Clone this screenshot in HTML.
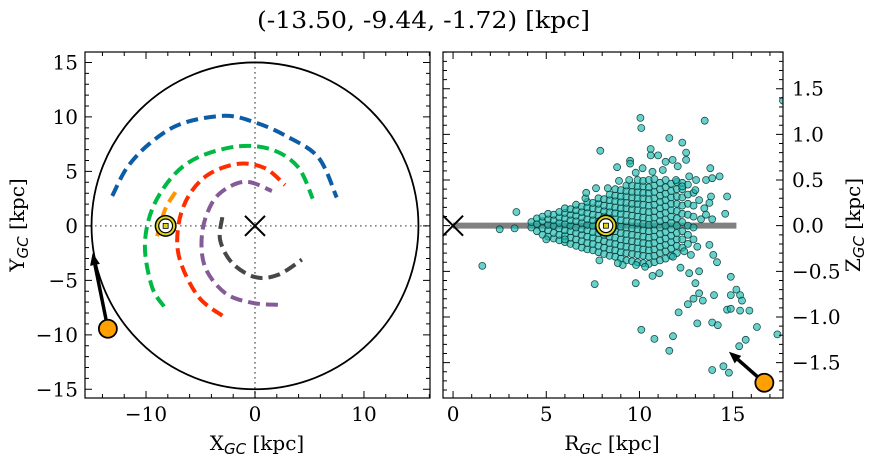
<!DOCTYPE html>
<html><head><meta charset="utf-8"><style>
html,body{margin:0;padding:0;background:#fff}
svg{display:block;font-family:"DejaVu Serif","Liberation Serif",serif}
.sub{font-family:"DejaVu Sans","Liberation Sans",sans-serif;font-style:italic}
</style></head><body>
<svg id="fig" width="874" height="464" viewBox="0 0 874 464" xmlns="http://www.w3.org/2000/svg">
<text x="257" y="28" textLength="333" lengthAdjust="spacingAndGlyphs" font-size="23">(-13.50, -9.44, -1.72) [kpc]</text>
<g id="L"></g>
<g id="R"></g>
</svg>
<script>
// ---- left panel data (kpc) ----
const blueX=[-13.1,-11.7,-9.5,-6.7,-2.75,0,2.75,5.8,7.5];
const blueY=[2.75,5.4,7.7,9.4,10.1,9.5,8.3,6.3,2.6];
const greenX=[-8.35,-9.45,-10.1,-9.45,-7.6,-5.2,-1.55,1.55,3.95,5.3];
const greenY=[-7.4,-5.6,-1.9,1.5,4.5,6.3,7.3,7.0,5.4,2.5];
const orangeX=[-7.3,-8.25,-9.0];
const orangeY=[3.1,1.5,-1.0];
const redX=[-3.0,-5.2,-6.9,-7.05,-6.15,-4.3,-1.55,0.9,2.75];
const redY=[-8.25,-6.5,-3.1,-0.1,2.65,4.7,5.7,5.3,3.75];
const purpleX=[2.1,-0.3,-2.75,-4.6,-4.85,-3.95,-2.5,-0.65,1.55];
const purpleY=[-7.25,-7.05,-6.15,-3.75,-0.65,2.1,3.5,4.05,3.2];
const grayX=[-3.0,-3.2,-2.1,0,2.1,4.3];
const grayY=[0.8,-1.3,-3.4,-4.7,-4.5,-3.1];
const starXY=[-13.5,-9.44];
const starArrowTip=[-14.9,-2.5];
const sunXY=[-8.2,0];
const xTicksL=[-10,0,10];
const yTicksL=[-15,-10,-5,0,5,10,15];
// ---- right panel data ----
const colR=[4.2,4.5,4.8,5.1,5.4,5.7,6.0,6.3,6.6,6.9,7.2,7.5,7.8,8.1,8.4,8.7,9.0,9.3,9.6,9.9,10.2,10.5,10.8,11.1,11.4,11.7,12.0,12.3,12.6,12.9];
const colZ=[
[-0.02,0.04],[-0.06,0.02,0.08],[-0.1,-0.03,0.05,0.1],[-0.12,-0.05,0.01,0.07,0.13],[-0.14,-0.08,0,0.06,0.12],
[-0.16,-0.1,-0.03,0.03,0.09,0.15],[-0.18,-0.11,-0.05,0.02,0.08,0.14,0.19],[-0.2,-0.13,-0.06,0,0.06,0.12,0.18],
[-0.22,-0.15,-0.08,-0.02,0.05,0.11,0.17,0.23],[-0.24,-0.17,-0.1,-0.04,0.03,0.09,0.15,0.21],
[-0.26,-0.19,-0.12,-0.05,0.01,0.07,0.14,0.2,0.26],[-0.27,-0.2,-0.13,-0.07,0,0.06,0.12,0.19,0.25],
[-0.29,-0.22,-0.15,-0.08,-0.02,0.05,0.11,0.18,0.24,0.3],[-0.31,-0.24,-0.17,-0.1,-0.04,0.03,0.1,0.16,0.22,0.29],
[-0.33,-0.26,-0.19,-0.12,-0.05,0.01,0.08,0.15,0.21,0.28,0.34],[-0.34,-0.27,-0.2,-0.13,-0.06,0,0.07,0.14,0.2,0.27,0.33,0.4],
[-0.36,-0.29,-0.22,-0.15,-0.08,-0.01,0.06,0.13,0.19,0.26,0.32,0.39],[-0.38,-0.3,-0.23,-0.16,-0.09,-0.02,0.05,0.12,0.19,0.25,0.32,0.38,0.44],
[-0.39,-0.31,-0.24,-0.17,-0.1,-0.03,0.04,0.11,0.18,0.24,0.31,0.37,0.44],[-0.4,-0.32,-0.25,-0.18,-0.11,-0.04,0.03,0.1,0.17,0.24,0.3,0.37,0.43,0.5],
[-0.41,-0.33,-0.26,-0.19,-0.12,-0.05,0.02,0.09,0.16,0.23,0.3,0.36,0.43,0.49],[-0.42,-0.34,-0.27,-0.2,-0.13,-0.06,0.01,0.08,0.15,0.22,0.29,0.36,0.42,0.5],
[-0.4,-0.33,-0.26,-0.19,-0.12,-0.05,0.02,0.09,0.16,0.23,0.3,0.37,0.44,0.51],[-0.38,-0.3,-0.23,-0.16,-0.09,-0.02,0.05,0.12,0.19,0.26,0.33,0.4,0.47],
[-0.36,-0.28,-0.21,-0.14,-0.07,0,0.07,0.14,0.21,0.28,0.35,0.42,0.5],[-0.33,-0.25,-0.18,-0.11,-0.04,0.03,0.1,0.17,0.24,0.31,0.38,0.46],
[-0.3,-0.22,-0.15,-0.08,0,0.08,0.16,0.24,0.32,0.4,0.48],[-0.24,-0.15,-0.06,0.04,0.13,0.22,0.31,0.4,0.47],
[-0.2,-0.1,0,0.12,0.24,0.34,0.45],[-0.15,-0.02,0.1,0.22,0.36]];
const outR=[10.05,10.1,13.5,11.6,12.3,7.9,10.6,10.6,11.0,12.5,12.5,8.8,9.5,9.5,13.8,14.3,14.7,7.1,3.4,2.5,3.3,1.57,5.0,6.0,7.6,9.8,7.85,14.6,13.9,13.3,14.9,15.2,15.4,15.5,14.9,14.7,14.9,15.4,15.9,14.0,13.0,13.2,13.4,12.6,12.9,12.1,13.1,13.9,14.2,10.1,10.8,11.8,11.6,16.3,17.4,15.7,15.35,13.9,14.5,14.8,17.7,
12.4,12.76,13.1,13.75,13.96,14.16,13.2,12.67,12.2,11.8,11.07,10.7,10.3,9.82,9.1,8.84,
13.04,13.57,13.9,13.84,13.48,13.57,13.2,12.67,12.05,11.78,11.4,11.25,10.7,10.17,9.8,9.45,8.9,8.3,7.67,7.14,11.96,12.3,13.0,13.75];
const outZ=[1.18,1.07,1.15,0.96,0.91,0.82,0.84,0.77,0.77,0.8,0.72,0.64,0.71,0.68,0.63,0.54,0.32,0.30,0.15,-0.04,-0.03,-0.44,-0.15,-0.15,-0.64,-0.63,-0.38,0.13,0.07,0.07,-0.56,-0.70,-0.76,-0.82,-0.76,-0.92,-0.91,-0.93,-0.93,-0.76,-0.63,-0.74,-0.82,-0.86,-0.80,-0.95,-1.07,-1.06,-1.09,-1.14,-1.24,-1.21,-1.37,-1.11,-1.19,-1.25,-1.32,-1.58,-1.54,-1.61,1.37,
-0.28,-0.32,-0.23,-0.21,-0.32,-0.40,-0.50,-0.52,-0.46,-0.34,-0.52,-0.55,-0.45,-0.43,-0.43,-0.41,
0.5,0.5,0.52,0.32,0.19,0.12,0.28,0.54,0.65,0.72,0.70,0.61,0.59,0.63,0.58,0.50,0.49,0.41,0.41,0.36,0.5,0.43,0.39,0.25];
const diskR=[0,15.2];
const sunRZ=[8.2,0];
const starRZ=[16.7,-1.72];
const starArrowTipRZ=[14.8,-1.38];
const xTicksR=[0,5,10,15];
const yTicksR=[-1.5,-1.0,-0.5,0.0,0.5,1.0,1.5];

const NS="http://www.w3.org/2000/svg";
function mk(p,t,a){const e=document.createElementNS(NS,t);for(const k in a)e.setAttribute(k,a[k]);p.appendChild(e);return e;}
const fmt=v=>String(v).replace('-','\u2212');
const L={x0:85,x1:430,y0:52,y1:398,xmin:-15.6,xmax:16.06,ymin:-15.8,ymax:15.96};
const R={x0:443,x1:783,y0:52,y1:398,xmin:-0.54,xmax:17.7,ymin:-1.887,ymax:1.902};
const sx=(A,v)=>A.x0+(v-A.xmin)/(A.xmax-A.xmin)*(A.x1-A.x0);
const sy=(A,v)=>A.y1-(v-A.ymin)/(A.ymax-A.ymin)*(A.y1-A.y0);
const gL=document.getElementById('L'), gR=document.getElementById('R');
const defs=mk(document.getElementById('fig'),'defs',{});
const cpL=mk(defs,'clipPath',{id:'cL'});mk(cpL,'rect',{x:L.x0,y:L.y0,width:L.x1-L.x0,height:L.y1-L.y0});
const cpR=mk(defs,'clipPath',{id:'cR'});mk(cpR,'rect',{x:R.x0,y:R.y0,width:R.x1-R.x0,height:R.y1-R.y0});
const pL=mk(gL,'g',{'clip-path':'url(#cL)'});


let e=mk(pL,'line',{x1:L.x0,x2:L.x1,y1:sy(L,0),y2:sy(L,0),stroke:'#777','stroke-width':1.6,'stroke-dasharray':'1.6 3.4'});

e=mk(pL,'line',{x1:sx(L,0),x2:sx(L,0),y1:L.y0,y2:L.y1,stroke:'#777','stroke-width':1.6,'stroke-dasharray':'1.6 3.4'});

e=mk(pL,'ellipse',{cx:sx(L,0),cy:sy(L,0),rx:sx(L,15)-sx(L,0),ry:sy(L,0)-sy(L,15),fill:'none',stroke:'#000','stroke-width':1.8});

function smooth(P){if(P.length<3)return 'M'+P.map(p=>p.join(',')).join('L');
 let d=`M${P[0][0]},${P[0][1]}`;
 for(let i=0;i<P.length-1;i++){const p0=P[Math.max(i-1,0)],p1=P[i],p2=P[i+1],p3=P[Math.min(i+2,P.length-1)];
  const c1=[p1[0]+(p2[0]-p0[0])/6,p1[1]+(p2[1]-p0[1])/6],c2=[p2[0]-(p3[0]-p1[0])/6,p2[1]-(p3[1]-p1[1])/6];
  d+=`C${c1[0].toFixed(1)},${c1[1].toFixed(1)} ${c2[0].toFixed(1)},${c2[1].toFixed(1)} ${p2[0].toFixed(1)},${p2[1].toFixed(1)}`;}
 return d;}
function arm(xs,ys,col,name){const P=xs.map((x,i)=>[sx(L,x),sy(L,ys[i])]);
 const p=mk(pL,'path',{d:smooth(P),fill:'none',stroke:col,'stroke-width':4,'stroke-dasharray':'12 6'});
 
 }
arm(blueX,blueY,'#0c5da5','arm-blue');
arm(greenX,greenY,'#00b945','arm-green');
arm(orangeX,orangeY,'#ff9500','arm-orange');
arm(redX,redY,'#ff2c00','arm-red');
arm(purpleX,purpleY,'#845b97','arm-purple');
arm(grayX,grayY,'#474747','arm-gray');
function cross(g,cx,cy,name){const s=10;const c=mk(g,'path',{d:`M${cx-s},${cy-s}L${cx+s},${cy+s}M${cx-s},${cy+s}L${cx+s},${cy-s}`,stroke:'#000','stroke-width':2,fill:'none'});
 
 }
cross(pL,sx(L,0),sy(L,0),'galactic-center-marker');
function sun(g,cx,cy){const s=mk(g,'g',{});
 
 
 mk(s,'circle',{cx,cy,r:11,fill:'#000'});mk(s,'circle',{cx,cy,r:9.5,fill:'#ddd61a'});mk(s,'circle',{cx,cy,r:7.5,fill:'#000'});mk(s,'circle',{cx,cy,r:6.3,fill:'#fff'});
 mk(s,'rect',{x:cx-2.5,y:cy-2.5,width:5,height:5,fill:'#ddd61a',stroke:'#000','stroke-width':0.8});}
sun(pL,sx(L,sunXY[0]),sy(L,sunXY[1]));
function arrow(g,x1,y1,x2,y2,name){const a=mk(g,'g',{});
 
 
 const dx=x2-x1,dy=y2-y1,len=Math.hypot(dx,dy),ux=dx/len,uy=dy/len,hl=12,hw=5;
 const bx=x2-ux*hl,by=y2-uy*hl;
 mk(a,'line',{x1,y1,x2:bx,y2:by,stroke:'#000','stroke-width':3.5});
 mk(a,'polygon',{points:`${x2},${y2} ${bx-uy*hw},${by+ux*hw} ${bx+uy*hw},${by-ux*hw}`,fill:'#000'});}
function star(g,cx,cy,name){const c=mk(g,'circle',{cx,cy,r:9,fill:'#ffa000',stroke:'#000','stroke-width':1.8});
 
 }
arrow(pL,sx(L,starXY[0]),sy(L,starXY[1]),sx(L,starArrowTip[0]),sy(L,starArrowTip[1]),'star-velocity-arrow');
star(pL,sx(L,starXY[0]),sy(L,starXY[1]),'star-position-marker');

const pR=mk(gR,'g',{'clip-path':'url(#cR)'});


e=mk(pR,'line',{x1:sx(R,diskR[0]),x2:sx(R,diskR[1]),y1:sy(R,0),y2:sy(R,0),stroke:'#808080','stroke-width':6});

cross(pR,sx(R,0),sy(R,0),'galactic-center-marker-rz');
const sg=mk(pR,'g',{});


function dot(r,z){const c=mk(sg,'circle',{cx:sx(R,r).toFixed(1),cy:sy(R,z).toFixed(1),r:3.5,fill:'rgba(25,185,175,0.65)',stroke:'rgba(5,50,45,0.85)','stroke-width':0.8});
 
 }
colR.forEach((r,i)=>colZ[i].forEach(z=>dot(r,z)));
outR.forEach((r,i)=>dot(r,outZ[i]));
sun(pR,sx(R,sunRZ[0]),sy(R,sunRZ[1]));
arrow(pR,sx(R,starRZ[0]),sy(R,starRZ[1]),sx(R,starArrowTipRZ[0]),sy(R,starArrowTipRZ[1]),'star-velocity-arrow-rz');
star(pR,sx(R,starRZ[0]),sy(R,starRZ[1]),'star-position-marker-rz');

function ticks(g,A,xs,xmin,ys,ymin,yRight,xdec,ydec){
 const fr=mk(g,'rect',{x:A.x0,y:A.y0,width:A.x1-A.x0,height:A.y1-A.y0,fill:'none',stroke:'#000','stroke-width':1.2});
 
 let d='';
 for(let v=Math.ceil(A.xmin/xmin)*xmin;v<=A.xmax;v+=xmin){const X=sx(A,v);const maj=xs.some(t=>Math.abs(t-v)<1e-6);const l=maj?7:4;d+=`M${X},${A.y1}v${-l}M${X},${A.y0}v${l}`;}
 for(let v=Math.ceil(A.ymin/ymin)*ymin;v<=A.ymax+1e-9;v+=ymin){const Y=sy(A,v);const maj=ys.some(t=>Math.abs(t-v)<1e-6);const l=maj?7:4;d+=`M${A.x0},${Y}h${l}M${A.x1},${Y}h${-l}`;}
 const tk=mk(g,'path',{d,stroke:'#000','stroke-width':1});
 
 xs.forEach(v=>{const t=mk(g,'text',{x:sx(A,v),y:A.y1+23,'text-anchor':'middle','font-size':20});t.textContent=fmt(v.toFixed(xdec));
  });
 ys.forEach(v=>{const t=mk(g,'text',{x:yRight?A.x1+9:A.x0-7,y:sy(A,v)+7,'text-anchor':yRight?'start':'end','font-size':20});t.textContent=fmt(v.toFixed(ydec));
  });
}
ticks(gL,L,xTicksL,2,yTicksL,1,false,0,0);
ticks(gR,R,xTicksR,1,yTicksR,0.1,true,0,1);
function lab(g,x,y,rot,main,sub,name){const t=mk(g,'text',{x,y,'text-anchor':'middle','font-size':20,transform:rot?`rotate(-90 ${x} ${y})`:''});
 
 const a=mk(t,'tspan',{});a.textContent=main;const b=mk(t,'tspan',{'font-size':15,dy:4,class:'sub'});b.textContent=sub;const c=mk(t,'tspan',{dy:-4});c.textContent=' [kpc]';}
lab(gL,257,450,false,'X','GC','x-axis-title');
lab(gL,24,225,true,'Y','GC','y-axis-title');
lab(gR,612,450,false,'R','GC','r-axis-title');
lab(gR,860,225,true,'Z','GC','z-axis-title');
</script>
</body></html>
